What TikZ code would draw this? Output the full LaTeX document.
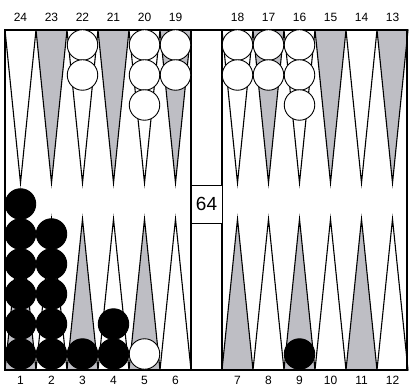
\documentclass[tikz,border=0pt]{standalone}
\usepackage{fontspec}
\setmainfont{Liberation Sans}
\usetikzlibrary{positioning}
\definecolor{pointgray}{RGB}{190,190,196}

\begin{document}
\begin{tikzpicture}[
    x=1pt, y=-1pt,
    tri/.style={draw=black, line width=1.1pt, line join=miter},
    chk/.style={circle, draw=black, line width=0.9pt, minimum size=30.5pt, inner sep=0pt},
    blk/.style={chk, fill=black},
    wht/.style={chk, fill=white},
    lbl/.style={font=\fontsize{12}{14}\selectfont, inner sep=0pt},
    cube/.style={draw=black, line width=0.8pt, minimum width=31pt, minimum height=38pt, inner sep=0pt, fill=white, font=\fontsize{19}{21}\selectfont}
]
\useasboundingbox (0,0) rectangle (409,387);

% Points, top row
\foreach \k/\c in {0/white,1/pointgray,2/white,3/pointgray,4/white,5/pointgray} {
  \filldraw[tri, fill=\c] (5+31*\k,30) -- (20.5+31*\k,183) -- (36+31*\k,30) -- cycle;
  \filldraw[tri, fill=\c] (222+31*\k,30) -- (237.5+31*\k,183) -- (253+31*\k,30) -- cycle;
}
% Points, bottom row
\foreach \k/\c in {0/pointgray,1/white,2/pointgray,3/white,4/pointgray,5/white} {
  \filldraw[tri, fill=\c] (5+31*\k,370) -- (20.5+31*\k,219) -- (36+31*\k,370) -- cycle;
  \filldraw[tri, fill=\c] (222+31*\k,370) -- (237.5+31*\k,219) -- (253+31*\k,370) -- cycle;
}

% Board and bar
\draw[line width=1.1pt] (5,30) rectangle (407,370);
\draw[line width=1.1pt] (191,30) -- (191,370);
\draw[line width=1.1pt] (222,30) -- (222,370);

% Doubling cube
\node[cube] (cube) at (206.5,204) {64};

% Point numbers
\foreach \k in {0,...,5} {
  \pgfmathtruncatemacro\ptl{24-\k}
  \pgfmathtruncatemacro\ptr{18-\k}
  \pgfmathtruncatemacro\pbl{1+\k}
  \pgfmathtruncatemacro\pbr{7+\k}
  \node[lbl] (n\ptl) at (20.5+31*\k,17) {\ptl};
  \node[lbl] (n\ptr) at (237.5+31*\k,17) {\ptr};
  \node[lbl] (n\pbl) at (20.5+31*\k,380) {\pbl};
  \node[lbl] (n\pbr) at (237.5+31*\k,380) {\pbr};
}

% White checkers
\node[wht] (w22a) at (82.5,45) {};
\node[wht] (w22b) at (82.5,75) {};
\node[wht] (w20a) at (144.5,45) {};
\node[wht] (w20b) at (144.5,75) {};
\node[wht] (w20c) at (144.5,105) {};
\node[wht] (w19a) at (175.5,45) {};
\node[wht] (w19b) at (175.5,75) {};
\node[wht] (w18a) at (237.5,45) {};
\node[wht] (w18b) at (237.5,75) {};
\node[wht] (w17a) at (268.5,45) {};
\node[wht] (w17b) at (268.5,75) {};
\node[wht] (w16a) at (299.5,45) {};
\node[wht] (w16b) at (299.5,75) {};
\node[wht] (w16c) at (299.5,105) {};
\node[wht] (w5a) at (144.5,354) {};

% Black checkers
\foreach \i/\y in {a/354,b/324,c/294,d/264,e/234,f/204}
  \node[blk] (b1\i) at (20.5,\y) {};
\foreach \i/\y in {a/354,b/324,c/294,d/264,e/234}
  \node[blk] (b2\i) at (51.5,\y) {};
\node[blk] (b3a) at (82.5,354) {};
\node[blk] (b4a) at (113.5,354) {};
\node[blk] (b4b) at (113.5,324) {};
\node[blk] (b9a) at (299.5,354) {};

\end{tikzpicture}
\end{document}
